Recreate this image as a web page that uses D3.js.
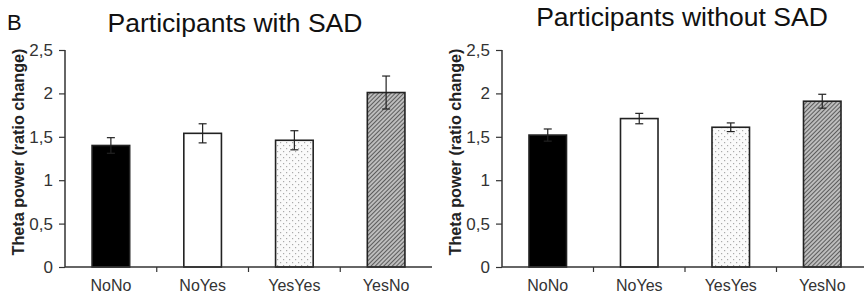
<!DOCTYPE html>
<html>
<head>
<meta charset="utf-8">
<script src="https://cdn.jsdelivr.net/npm/d3@7"></script>
<style>
  body { margin: 0; background: #fff; }
  svg { display: block; font-family: "Liberation Sans", Arial, sans-serif; }
</style>
</head>
<body>
<svg id="chart" width="864" height="295"></svg>
<script>
// groups on the x axis
var categories = ["NoNo", "NoYes", "YesYes", "YesNo"];

// panel titles
var titles = ["Participants with SAD", "Participants without SAD"];

// theta power means and error
var withSAD = [1.40, 1.54, 1.46, 2.01];
var withSADErr = [0.09, 0.11, 0.11, 0.19];
var withoutSAD = [1.52, 1.71, 1.61, 1.91];
var withoutSADErr = [0.07, 0.06, 0.05, 0.08];

var yTicks = [0, 0.5, 1, 1.5, 2, 2.5];
var yLabel = "Theta power (ratio change)";

var svg = d3.select("#chart");

// patterns for the bars
var defs = svg.append("defs");

var dots = defs.append("pattern")
    .attr("id", "dots")
    .attr("patternUnits", "userSpaceOnUse")
    .attr("width", 6).attr("height", 6);
dots.append("rect").attr("width", 6).attr("height", 6).attr("fill", "#fafafa");
dots.append("rect").attr("x", 1).attr("y", 1).attr("width", 1.2).attr("height", 1.2).attr("fill", "#aaa");
dots.append("rect").attr("x", 4).attr("y", 4).attr("width", 1.2).attr("height", 1.2).attr("fill", "#aaa");

var hatch = defs.append("pattern")
    .attr("id", "hatch")
    .attr("patternUnits", "userSpaceOnUse")
    .attr("width", 3).attr("height", 3)
    .attr("patternTransform", "rotate(-45)");
hatch.append("rect").attr("width", 3).attr("height", 3).attr("fill", "#bdbdbd");
hatch.append("line")
    .attr("x1", 0).attr("y1", 0).attr("x2", 3).attr("y2", 0)
    .attr("stroke", "#444").attr("stroke-width", 1.6);

var fills = ["#000", "#fff", "url(#dots)", "url(#hatch)"];

// y scale is shared by both panels
var y = d3.scaleLinear().domain([0, 2.5]).range([267, 50]);

var drawPanel = function(x0, x1, values, errs, title, titleX, titleY, labelX) {
  var x = d3.scaleBand().domain(categories).range([x0, x1]).paddingInner(0.59).paddingOuter(0.295);
  var band = d3.scaleBand().domain(categories).range([x0, x1]);

  var g = svg.append("g");

  // bars
  g.selectAll("rect.bar")
      .data(values)
    .enter().append("rect")
      .attr("class", "bar")
      .attr("x", function(d, i) { return x(categories[i]); })
      .attr("y", function(d) { return y(d); })
      .attr("width", x.bandwidth())
      .attr("height", function(d) { return y(0) - y(d); })
      .attr("fill", function(d, i) { return fills[i]; })
      .attr("stroke", "#222")
      .attr("stroke-width", 1.6);

  // error bars (the lower half disappears inside the black bar)
  var eb = g.selectAll("g.err")
      .data(values)
    .enter().append("g")
      .attr("class", "err")
      .attr("transform", function(d, i) { return "translate(" + (x(categories[i]) + x.bandwidth() / 2) + ",0)"; });
  eb.append("line")
      .attr("y1", function(d, i) { return y(d + errs[i]); })
      .attr("y2", function(d, i) { return y(d - errs[i]); })
      .attr("stroke", "#222")
      .attr("stroke-width", 1.2);
  eb.append("line")
      .attr("x1", -4).attr("x2", 4)
      .attr("y1", function(d, i) { return y(d + errs[i]); })
      .attr("y2", function(d, i) { return y(d + errs[i]); })
      .attr("stroke", "#222").attr("stroke-width", 1.2);
  eb.append("line")
      .attr("x1", -4).attr("x2", 4)
      .attr("y1", function(d, i) { return y(d - errs[i]); })
      .attr("y2", function(d, i) { return y(d - errs[i]); })
      .attr("stroke", "#222")
      .attr("stroke-width", 1.2);

  // y axis
  var yAxis = g.append("g")
      .attr("transform", "translate(" + x0 + ",0)")
      .call(d3.axisLeft(y).tickValues(yTicks).tickSize(6).tickPadding(6)
        .tickFormat(function(d) { return d3.format("")(d).replace(".", ","); }));
  yAxis.select(".domain").attr("stroke", "#333").attr("stroke-width", 1.5).attr("d", "M0," + y(2.5) + "V" + y(0));
  yAxis.selectAll(".tick line").attr("stroke", "#333").attr("stroke-width", 1.2);
  yAxis.selectAll(".tick text")
      .attr("fill", "#333")
      .style("font-size", "17px")
      .style("font-family", "Liberation Sans, Arial, sans-serif");

  // x axis with ticks between groups
  var xAxis = g.append("g")
      .attr("transform", "translate(0," + y(0) + ")");
  xAxis.append("line")
      .attr("x1", x0).attr("x2", x1)
      .attr("stroke", "#333").attr("stroke-width", 1.5);
  xAxis.selectAll("line.sep")
      .data(categories.slice(1))
    .enter().append("line")
      .attr("class", "sep")
      .attr("x1", function(d) { return band(d); })
      .attr("x2", function(d) { return band(d); })
      .attr("y1", 0).attr("y2", 5)
      .attr("stroke", "#333").attr("stroke-width", 1.2);
  xAxis.selectAll("text")
      .data(categories)
    .enter().append("text")
      .attr("x", function(d) { return x(d) + x.bandwidth() / 2; })
      .attr("y", 24)
      .attr("text-anchor", "middle")
      .attr("fill", "#333")
      .style("font-size", "16px")
      .text(function(d) { return d; });

  // y label
  svg.append("text")
      .attr("transform", "translate(" + labelX + "," + 152 + ") rotate(-90)")
      .attr("text-anchor", "middle")
      .attr("dy", "0.35em")
      .attr("fill", "#222")
      .style("font-size", "16.2px")
      .style("font-weight", "bold")
      .text(yLabel);

  // title
  svg.append("text")
      .attr("x", titleX).attr("y", titleY)
      .attr("text-anchor", "middle")
      .attr("fill", "#111")
      .style("font-size", "26.5px")
      .text(title);
};

drawPanel(65, 432, withSAD, withSADErr, titles[0], 235, 32, 18.5);
drawPanel(502, 868, withoutSAD, withoutSADErr, titles[1], 682, 26, 455);

// panel letter
svg.append("text")
    .attr("x", 7).attr("y", 30)
    .attr("fill", "#111")
    .style("font-size", "22px")
    .text("B");
</script>
</body>
</html>
